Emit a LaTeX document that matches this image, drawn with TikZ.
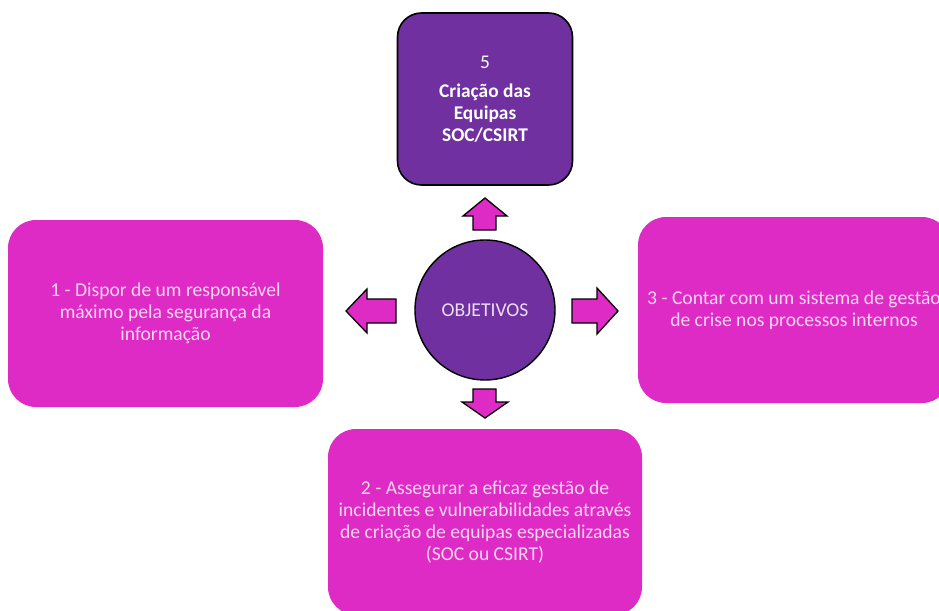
\documentclass[tikz,border=0pt]{standalone}
\usepackage{fontspec}
\setmainfont{Carlito}
\usetikzlibrary{positioning}
\definecolor{roxo}{HTML}{7030A0}
\definecolor{magenta}{HTML}{DF2BC5}
\definecolor{textorosa}{HTML}{F9D6F2}
\definecolor{textolilas}{HTML}{EADCF5}
\tikzset{
  goalbox/.style={rectangle, rounded corners=28pt, fill=magenta, draw=none,
    text=textorosa, align=center, inner sep=0pt,
    font=\fontsize{19.6}{22}\selectfont},
  topbox/.style={rectangle, rounded corners=24pt, fill=roxo, draw=black, line width=1.6pt,
    text=white, align=center, inner sep=0pt, font=\fontsize{19.4}{22}\selectfont},
  hub/.style={circle, fill=roxo, draw=black, line width=1.4pt, inner sep=0pt,
    minimum size=140pt, text=textolilas, font=\fontsize{19.6}{22}\selectfont},
  blockarrow/.style={fill=magenta, draw=black, line width=1.3pt, line join=miter}
}
\begin{document}
\begin{tikzpicture}[x=1pt,y=-1pt]
\useasboundingbox (0,0) rectangle (939,610);
\fill[white] (0,0) rectangle (939,610);
\begin{scope}
\clip (0,0) rectangle (939,610);
% central hub
\node[hub] (hub) at (485,310) {OBJETIVOS};
% goal boxes
\node[topbox, minimum width=175pt, minimum height=172pt] (g5) at (485,99)
  {\textmd{5}\\[7pt]\textbf{Criação das}\\\textbf{Equipas}\\\textbf{SOC/CSIRT}};
\node[goalbox, minimum width=315pt, minimum height=187pt] (g1) at (165.5,313.5)
  {1 - Dispor de um responsável\\máximo pela segurança da\\informação};
\node[goalbox, minimum width=312pt, minimum height=186pt] (g3) at (794,310)
  {3 - Contar com um sistema de gestão\\de crise nos processos internos};
\node[goalbox, minimum width=314pt, minimum height=186pt] (g2) at (485,522)
  {2 - Assegurar a eficaz gestão de\\incidentes e vulnerabilidades através\\de criação de equipas especializadas\\(SOC ou CSIRT)};
% block arrows around the hub
\draw[blockarrow] (473,230) -- (473,216) -- (463,216) -- (485,198) -- (507,216) -- (496,216) -- (496,230) -- cycle;
\draw[blockarrow] (396,299) -- (367,299) -- (367,289) -- (346,311) -- (367,333) -- (367,323) -- (396,323) -- cycle;
\draw[blockarrow] (572,299) -- (597,299) -- (597,288) -- (618,311) -- (597,334) -- (597,323) -- (572,323) -- cycle;
\draw[blockarrow] (473,389) -- (473,402) -- (462,402) -- (485,418) -- (508,402) -- (496,402) -- (496,389) -- cycle;
\end{scope}
\end{tikzpicture}
\end{document}
